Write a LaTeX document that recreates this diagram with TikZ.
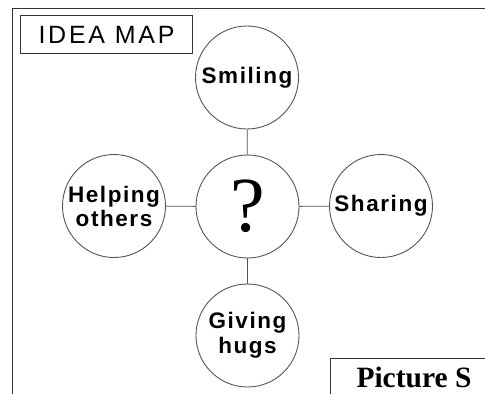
\documentclass[tikz,border=0pt]{standalone}
\usepackage{fontspec}
\setmainfont{Liberation Serif}
\newfontfamily\lblfont[LetterSpace=7]{Liberation Sans}
\newfontfamily\titlefont[LetterSpace=11]{Liberation Sans}
\definecolor{linegray}{HTML}{555555}
\tikzset{
  idea/.style={circle, draw=linegray, line width=0.9pt, minimum size=103pt, inner sep=0pt,
    align=center, font=\lblfont\bfseries\fontsize{22.5}{26}\selectfont, text=black},
  conn/.style={draw=linegray, line width=0.9pt},
  frame/.style={draw=black!80, line width=1pt}
}
\begin{document}
\begin{tikzpicture}[x=1pt,y=-1pt]
\useasboundingbox (0,0) rectangle (485,394);
\fill[white] (0,0) rectangle (485,394);
% outer frame (open on right and bottom)
\draw[frame] (12,394) -- (12,8) -- (485,8);
% title box
\node[frame, draw, minimum width=172pt, minimum height=38pt, inner sep=0pt, anchor=north west,
  font=\titlefont\fontsize{25}{28}\selectfont] (title) at (20,15) {IDEA MAP};
% picture label box
\draw[frame] (330,394) -- (330,358) -- (485,358);
\node[font=\bfseries\fontsize{29.5}{31}\selectfont, anchor=base, inner sep=0pt] (pic) at (414,387) {Picture S};
% circles
\node[idea] (c) at (247.5,206.5) {};
\node[font=\fontsize{78}{80}\selectfont, inner sep=0pt] (q) at (248,206) {?};
\node[idea] (s) at (247,77.5) {Smiling};
\node[idea] (h) at (114,206) {Helping\\[-2pt]others};
\node[idea] (r) at (381,206) {Sharing};
\node[idea] (g) at (247.5,335.5) {Giving\\[-1pt]hugs};
% connectors
\draw[conn] (s) -- (c);
\draw[conn] (c) -- (g);
\draw[conn] (h) -- (c);
\draw[conn] (c) -- (r);
\end{tikzpicture}
\end{document}
